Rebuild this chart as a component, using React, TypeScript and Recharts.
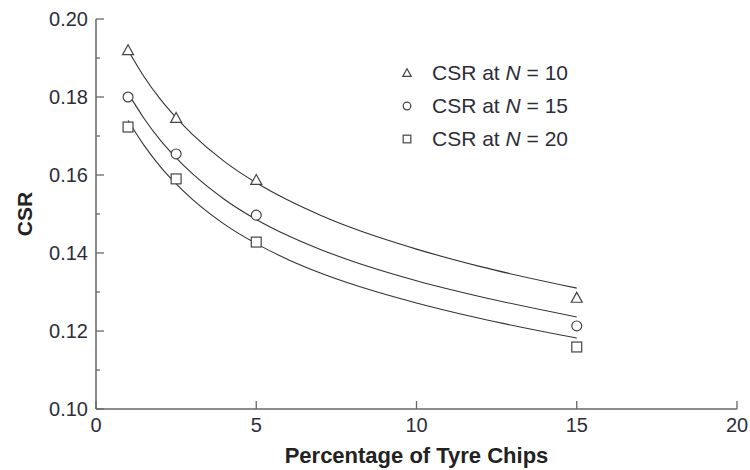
import { ComposedChart, Legend, Line, Scatter, XAxis, YAxis } from "recharts";

// measured points (percentage of tyre chips vs CSR)
const chipPct = [1, 2.5, 5, 15];
const csrN10 = [0.192, 0.1746, 0.1587, 0.1285];
const csrN15 = [0.18, 0.1654, 0.1497, 0.1213];
const csrN20 = [0.1723, 0.159, 0.1428, 0.1159];

// fitted curves
const fitPct = [1, 1.5, 2, 2.5, 3, 4, 5, 6, 7, 8, 10, 12, 15];
const fitN10 = [0.192, 0.1852, 0.1795, 0.1747, 0.1705, 0.1635, 0.158, 0.1535, 0.1497, 0.1464, 0.141, 0.1365, 0.131];
const fitN15 = [0.181, 0.1745, 0.169, 0.1644, 0.1604, 0.1538, 0.1486, 0.1444, 0.1409, 0.1379, 0.1329, 0.1288, 0.1236];
const fitN20 = [0.174, 0.1676, 0.1622, 0.1577, 0.1538, 0.1474, 0.1424, 0.1383, 0.1349, 0.132, 0.1272, 0.1232, 0.1182];

const xTicks = [0, 5, 10, 15, 20];
const yTicks = [0.1, 0.11, 0.12, 0.13, 0.14, 0.15, 0.16, 0.17, 0.18, 0.19, 0.2];
const legendLabels = ["10", "15", "20"];

const FONT = "'Liberation Sans', Arial, Helvetica, sans-serif";
const INK = "#444";
const TEXT = "#2d2d3a";

const toRows = (xs: number[], ys: number[]) => xs.map((x, i) => ({ x, y: ys[i] }));

const Triangle = ({ cx, cy, s = 11 }: any) => (
  <path
    d={`M${cx},${cy - s * 0.5} L${cx + s * 0.5},${cy + s * 0.4} L${cx - s * 0.5},${cy + s * 0.4} Z`}
    fill="#fff"
    stroke={INK}
    strokeWidth={1.2}
  />
);
const Circle = ({ cx, cy, s = 11 }: any) => (
  <circle cx={cx} cy={cy} r={s * 0.45} fill="#fff" stroke={INK} strokeWidth={1.2} />
);
const Square = ({ cx, cy, s = 11 }: any) => (
  <rect x={cx - s * 0.45} y={cy - s * 0.45} width={s * 0.9} height={s * 0.9} fill="#fff" stroke={INK} strokeWidth={1.2} />
);
const markers = [Triangle, Circle, Square];

const YTick = ({ x, y, payload }: any) => {
  const major = Math.round(payload.value * 100) % 2 === 0;
  return (
    <g>
      <line x1={x} x2={x + (major ? 8 : 4)} y1={y} y2={y} stroke="#666" strokeWidth={1.3} />
      {major && (
        <text x={x - 8} y={y + 7} textAnchor="end" fontSize={20} fontFamily={FONT} fill={TEXT}>
          {payload.value.toFixed(2)}
        </text>
      )}
    </g>
  );
};

const XTick = ({ x, y, payload }: any) => (
  <g>
    <line x1={x} x2={x} y1={y} y2={y - 8} stroke="#666" strokeWidth={1.3} />
    <text x={x} y={y + 23} textAnchor="middle" fontSize={20} fontFamily={FONT} fill={TEXT}>
      {payload.value}
    </text>
  </g>
);

const LegendBox = () => (
  <svg width={240} height={110}>
    {legendLabels.map((n, i) => {
      const M = markers[i];
      const cy = 12 + i * 33;
      return (
        <g key={n}>
          <M cx={8} cy={cy} s={8.5} />
          <text x={33} y={cy + 7} fontSize={21} fontFamily={FONT} fill={TEXT}>
            CSR at <tspan fontStyle="italic">N</tspan> = {n}
          </text>
        </g>
      );
    })}
  </svg>
);

const curves = [fitN10, fitN15, fitN20];
const points = [csrN10, csrN15, csrN20];

export default function App() {
  return (
    <div style={{ position: "absolute", left: 0, top: 0, background: "#fff" }}>
      <ComposedChart width={750} height={470} margin={{ top: 19, right: 13, bottom: 0, left: 0 }}>
        <XAxis
          type="number"
          dataKey="x"
          domain={[0, 20]}
          ticks={xTicks}
          tickLine={false}
          tickSize={0}
          tickMargin={0}
          tick={<XTick />}
          axisLine={{ stroke: "#666", strokeWidth: 1.5 }}
          height={61}
          interval={0}
          label={{
            value: "Percentage of Tyre Chips",
            position: "insideBottom",
            offset: 7,
            fontSize: 22,
            fontWeight: "bold",
            fontFamily: FONT,
            fill: "#222",
          }}
        />
        <YAxis
          type="number"
          dataKey="y"
          domain={[0.1, 0.2]}
          ticks={yTicks}
          tickLine={false}
          tickSize={0}
          tickMargin={0}
          tick={<YTick />}
          axisLine={{ stroke: "#666", strokeWidth: 1.5 }}
          width={96}
          interval={0}
          label={{
            value: "CSR",
            angle: -90,
            position: "insideLeft",
            offset: 25,
            textAnchor: "middle",
            fontSize: 21,
            fontWeight: "bold",
            fontFamily: FONT,
            fill: "#222",
          }}
        />
        {curves.map((c, i) => (
          <Line
            key={`fit${i}`}
            data={toRows(fitPct, c)}
            dataKey="y"
            type="monotone"
            stroke="#333"
            strokeWidth={1.1}
            dot={false}
            activeDot={false}
            isAnimationActive={false}
          />
        ))}
        {points.map((p, i) => {
          const M = markers[i];
          return (
            <Scatter
              key={`pts${i}`}
              data={toRows(chipPct, p)}
              dataKey="y"
              shape={(props: any) => <M cx={props.cx} cy={props.cy} />}
              isAnimationActive={false}
            />
          );
        })}
        <Legend
          layout="horizontal"
          verticalAlign="middle"
          content={() => <LegendBox />}
          wrapperStyle={{ left: 399, top: 61, width: 240, height: 110 }}
        />
      </ComposedChart>
    </div>
  );
}
